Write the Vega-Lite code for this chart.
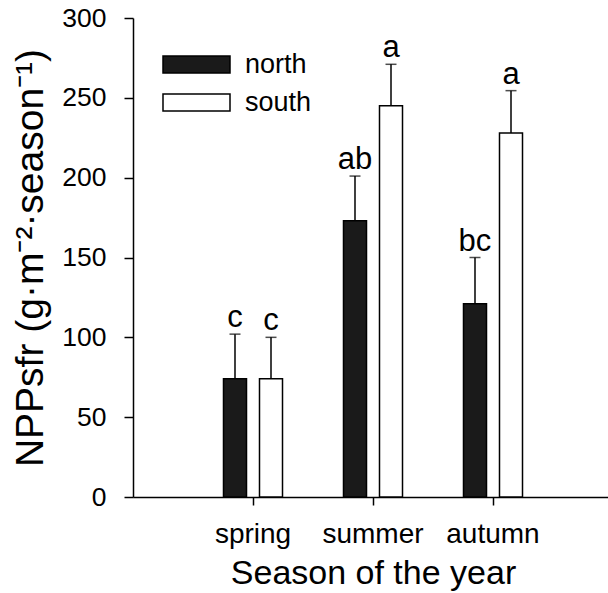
{
  "$schema": "https://vega.github.io/schema/vega-lite/v6.json",
  "autosize": {"type": "none"},
  "padding": {"left": 133, "top": 18, "right": 0, "bottom": 96},
  "width": 480,
  "height": 479,
  "background": "white",
  "config": {
    "font": "Liberation Sans",
    "view": {"stroke": null},
    "axis": {"grid": false, "domainColor": "black", "tickColor": "black", "domainWidth": 1.5, "tickWidth": 1.5, "labelColor": "black", "titleColor": "black", "titleFontWeight": "normal", "labelFont": "Liberation Sans", "titleFont": "Liberation Sans"}
  },
  "data": {
    "values": [
      {"season": "spring", "site": "north", "value": 74, "upper": 102, "letter": "c"},
      {"season": "spring", "site": "south", "value": 74, "upper": 100, "letter": "c"},
      {"season": "summer", "site": "north", "value": 173, "upper": 201, "letter": "ab"},
      {"season": "summer", "site": "south", "value": 245, "upper": 271, "letter": "a"},
      {"season": "autumn", "site": "north", "value": 121, "upper": 150, "letter": "bc"},
      {"season": "autumn", "site": "south", "value": 228, "upper": 254.5, "letter": "a"}
    ]
  },
  "encoding": {
    "x": {
      "field": "season", "type": "nominal",
      "scale": {"domain": ["spring", "summer", "autumn"], "paddingInner": 0, "paddingOuter": 0.5},
      "axis": {"title": "Season of the year", "labelAngle": 0, "labelFontSize": 28, "titleFontSize": 34, "tickSize": 8, "labelPadding": 15, "titlePadding": 8}
    },
    "xOffset": {
      "field": "site", "type": "nominal",
      "scale": {"domain": ["north", "south"], "paddingInner": 0.361, "paddingOuter": 0.847}
    }
  },
  "layer": [
    {
      "mark": {"type": "bar", "stroke": "black", "strokeWidth": 1.5},
      "encoding": {
        "y": {
          "field": "value", "type": "quantitative",
          "scale": {"domain": [0, 300], "nice": false},
          "axis": {"values": [0, 50, 100, 150, 200, 250, 300], "title": "NPPsfr (g·m⁻²·season⁻¹)", "labelFontSize": 26.5, "titleFontSize": 39, "tickSize": 9, "labelPadding": 18, "titlePadding": 11}
        },
        "fill": {
          "field": "site", "type": "nominal",
          "scale": {"domain": ["north", "south"], "range": ["#1a1a1a", "#ffffff"]},
          "legend": {
            "orient": "none", "legendX": 50, "legendY": 33, "title": null,
            "symbolType": "M-4,-1H4V1H-4Z", "symbolSize": 280.6,
            "symbolStrokeColor": "black", "symbolStrokeWidth": 1.5,
            "labelFontSize": 27, "labelOffset": 35, "labelColor": "black", "rowPadding": 10, "padding": 0
          }
        }
      }
    },
    {
      "mark": {"type": "rule", "color": "black", "strokeWidth": 1.5},
      "encoding": {
        "y": {"field": "value", "type": "quantitative"},
        "y2": {"field": "upper"}
      }
    },
    {
      "mark": {"type": "tick", "color": "black", "thickness": 1.5, "size": 11, "orient": "horizontal"},
      "encoding": {
        "y": {"field": "upper", "type": "quantitative"}
      }
    },
    {
      "mark": {"type": "text", "fontSize": 31, "baseline": "alphabetic", "dy": -7, "color": "black"},
      "encoding": {
        "y": {"field": "upper", "type": "quantitative"},
        "text": {"field": "letter"}
      }
    }
  ]
}
